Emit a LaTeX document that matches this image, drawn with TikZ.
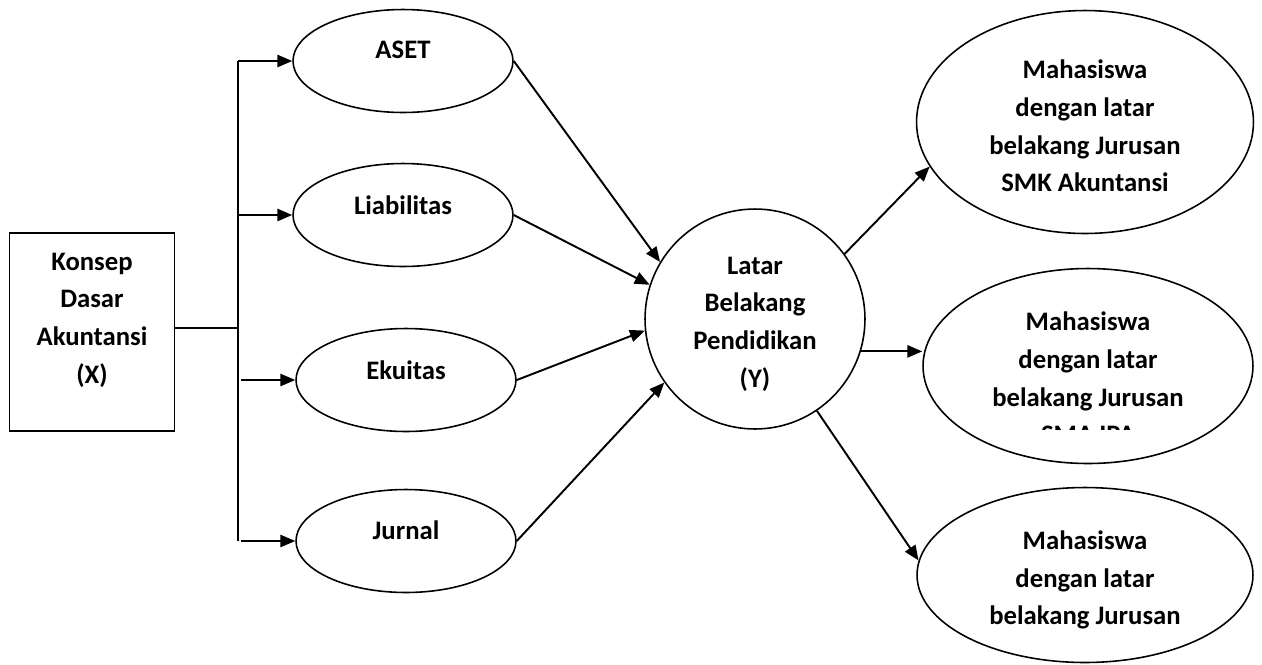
\documentclass[tikz,border=0pt]{standalone}
\usepackage{fontspec}
\setmainfont{Carlito}
\usetikzlibrary{shapes.geometric,arrows.meta}

\tikzstyle{block} = [draw, rectangle, line width=1.1pt, minimum width=3.3cm, minimum height=3.96cm]
\tikzstyle{oval} = [draw, ellipse, line width=0.9pt, minimum width=4.4cm, minimum height=2.06cm]
\tikzstyle{ovalBig} = [draw, ellipse, line width=0.9pt]
\tikzstyle{circ} = [draw, circle, line width=0.9pt, minimum size=4.4cm]
\tikzstyle{txt} = [align=center, inner sep=0pt]
\tikzstyle{line} = [draw, line width=1.1pt]
\tikzstyle{arrow} = [draw, line width=1.1pt, -{Triangle[length=8.5pt, width=7pt]}]

\begin{document}
\begin{tikzpicture}[x=0.02cm, y=-0.02cm, font=\bfseries\fontsize{15.2}{21.4}\selectfont]
  \useasboundingbox (0,0) rectangle (1262,664);

  \node [block] (konsep) at (92,332) {};
  \node [txt] (konsepTxt) at (92,320) {Konsep\\Dasar\\Akuntansi\\(X)};

  \node [oval] (aset) at (403,61) {};
  \node [txt] (asetTxt) at (403,50) {ASET};
  \node [oval] (liab) at (403,215) {};
  \node [txt] (liabTxt) at (403,205) {Liabilitas};
  \node [oval] (ekuitas) at (406,380) {};
  \node [txt] (ekuitasTxt) at (406,370) {Ekuitas};
  \node [oval] (jurnal) at (406,541) {};
  \node [txt] (jurnalTxt) at (406,530) {Jurnal};

  \node [circ] (latar) at (755,319) {};
  \node [txt] (latarTxt) at (755,324) {Latar\\Belakang\\Pendidikan\\(Y)};

  \node [ovalBig, minimum width=6.74cm, minimum height=4.46cm] (smk) at (1085,122) {};
  \node [txt] (smkTxt) at (1085,126) {Mahasiswa\\dengan latar\\belakang Jurusan\\SMK Akuntansi};
  \node [ovalBig, minimum width=6.6cm, minimum height=3.9cm] (ipa) at (1088,366) {};
  \begin{scope}
    \clip (900,250) rectangle (1262,429);
    \node [txt] (ipaTxt) at (1088,378) {Mahasiswa\\dengan latar\\belakang Jurusan\\SMA IPA};
  \end{scope}
  \node [ovalBig, minimum width=6.72cm, minimum height=3.5cm] (ips) at (1085,575) {};
  \node [txt] (ipsTxt) at (1085,580) {Mahasiswa\\dengan latar\\belakang Jurusan};

  % fan out of the box
  \coordinate (hub) at (238,328);
  \draw [line] (konsep.east |- hub) -- (hub);
  \draw [line] (hub |- aset.west) -- (hub |- jurnal.west);
  \draw [arrow] (hub |- aset.west) -- (aset.west);
  \draw [arrow] (hub |- liab.west) -- (liab.west);
  \draw [arrow] ([xshift=1.5pt]hub |- ekuitas.west) -- (ekuitas.west);
  \draw [arrow] ([xshift=1.5pt]hub |- jurnal.west) -- (jurnal.west);

  \draw [arrow] (aset.east) -- (latar.149);
  \draw [arrow] (liab.east) -- (latar.162);
  \draw [arrow] (ekuitas.east) -- (latar.186);
  \draw [arrow] (jurnal.east) -- (latar.215);

  \draw [arrow] (latar.36) -- (smk.196);
  \draw [arrow] (latar.-17) -- (latar.-17 -| ipa.west);
  \draw [arrow] (latar.-56) -- (ips.175);
\end{tikzpicture}
\end{document}
